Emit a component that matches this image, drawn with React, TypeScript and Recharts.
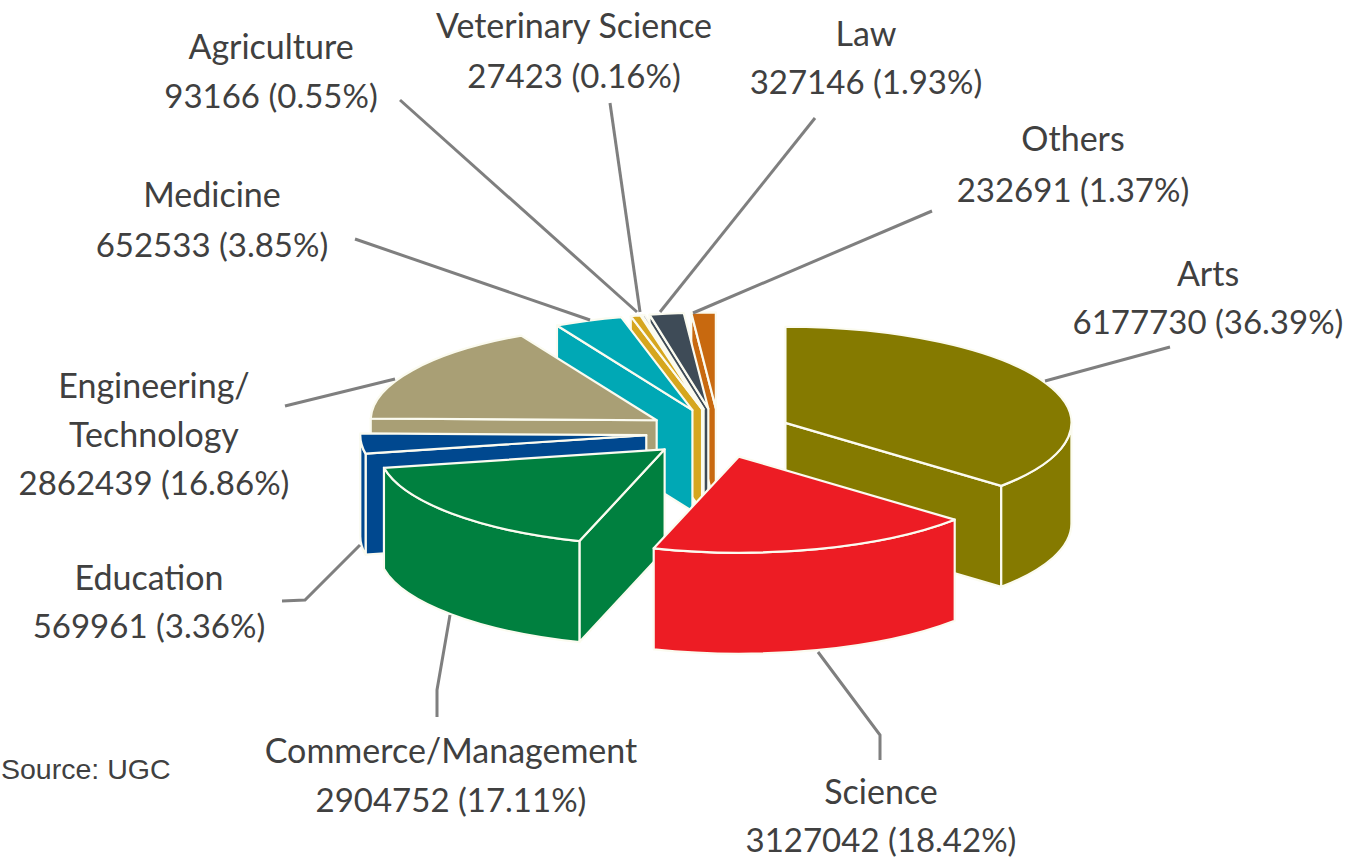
import React from 'react'
import { PieChart, Pie } from 'recharts'

const categories = [
  'Arts',
  'Science',
  'Commerce/Management',
  'Education',
  'Engineering/Technology',
  'Medicine',
  'Agriculture',
  'Veterinary Science',
  'Law',
  'Others',
]
const enrolment = [6177730, 3127042, 2904752, 569961, 2862439, 652533, 93166, 27423, 327146, 232691]
const shares = ['36.39', '18.42', '17.11', '3.36', '16.86', '3.85', '0.55', '0.16', '1.93', '1.37']
const colors = ['#857a00', '#ed1c24', '#00803f', '#00488f', '#a99f75', '#00a8b5', '#d6a61e', '#5d5a86', '#3e4b57', '#c8690f']

const tableData = categories.map((name, i) => ({ name, value: enrolment[i], share: shares[i], fill: colors[i] }))

// back to front, the slices overlap each other
const drawOrder = [9, 8, 7, 6, 5, 4, 3, 2, 0, 1]

const TILT = 0.336
const EXPLODE = 73
const DEPTH = 101
const LABEL_FONT = 'Lato, sans-serif'
const NAME_SIZE = 34
const NUMBER_SIZE = 33
const LINE_COLOR = '#7f7f7f'

const labelLayout = [
  { x: 1208, y: [286, 334], leader: [[1170, 347], [1045, 381]] },
  { x: 881, y: [804, 852], leader: [[880, 760], [880, 735], [818, 652]] },
  { x: 451, y: [763, 812], leader: [[437, 717], [437, 690], [450, 615]] },
  { x: 149, y: [590, 638], leader: [[282, 601], [305, 600], [360, 545]] },
  { x: 154, y: [398, 447, 495], leader: [[285, 406], [395, 379]] },
  { x: 212, y: [207, 257], leader: [[355, 239], [590, 320]] },
  { x: 271, y: [59, 108], leader: [[400, 100], [637, 312]] },
  { x: 574, y: [38, 88], leader: [[610, 103], [640, 312]] },
  { x: 866, y: [46, 94], leader: [[815, 118], [660, 312]] },
  { x: 1073, y: [151, 202], leader: [[932, 211], [693, 313]] },
]

const rad = (a: number) => (a * Math.PI) / 180

function Slice(props: any) {
  const { cx, cy, outerRadius: R, startAngle, endAngle, fill } = props
  const a1 = Math.max(startAngle, endAngle)
  const a2 = Math.min(startAngle, endAngle)
  const mid = rad((a1 + a2) / 2)
  const ax = cx + EXPLODE * Math.cos(mid)
  const ay = cy - EXPLODE * TILT * Math.sin(mid)
  const rim = (a: number) => [ax + R * Math.cos(rad(a)), ay - R * TILT * Math.sin(rad(a))]
  const arc = (to: number[], sweep: number, large = 0) => `A${R} ${R * TILT} 0 ${large} ${sweep} ${to[0]} ${to[1]}`
  const wall = (a: number) => {
    const p = rim(a)
    return `M${ax} ${ay}L${p[0]} ${p[1]}L${p[0]} ${p[1] + DEPTH}L${ax} ${ay + DEPTH}Z`
  }

  const paths: string[] = []
  if (Math.cos(rad(a1)) < -0.001) paths.push(wall(a1))
  if (Math.cos(rad(a2)) > 0.001) paths.push(wall(a2))
  // the outer wall only shows on the front half
  const hi = Math.min(a1, 0)
  const lo = Math.max(a2, -180)
  if (lo < hi) {
    const p = rim(hi)
    const q = rim(lo)
    paths.push(
      `M${p[0]} ${p[1]}${arc(q, 1)}L${q[0]} ${q[1] + DEPTH}${arc([p[0], p[1] + DEPTH], 0)}Z`
    )
  }
  const s = rim(a1)
  const e = rim(a2)
  paths.push(`M${ax} ${ay}L${s[0]} ${s[1]}${arc(e, 1, a1 - a2 > 180 ? 1 : 0)}Z`)

  return (
    <g>
      {paths.map((d, i) => (
        <path key={i} d={d} fill={fill} stroke="#fbfbf0" strokeWidth={2.2} strokeLinejoin="round" />
      ))}
    </g>
  )
}

function SliceLabel(props: any) {
  const { index } = props
  const row = tableData[index]
  const layout = labelLayout[index]
  const nameLines = row.name === 'Engineering/Technology' ? ['Engineering/', 'Technology'] : [row.name]
  const lines = [...nameLines, `${row.value} (${row.share}%)`]
  return (
    <g>
      <polyline
        points={layout.leader.map((p) => p.join(',')).join(' ')}
        fill="none"
        stroke={LINE_COLOR}
        strokeWidth={3}
      />
      {lines.map((line, i) => (
        <text
          key={i}
          x={layout.x}
          y={layout.y[i]}
          textAnchor="middle"
          fontFamily={LABEL_FONT}
          fontSize={i === lines.length - 1 ? NUMBER_SIZE : NAME_SIZE}
          fill="#404040"
        >
          {line}
        </text>
      ))}
    </g>
  )
}

export default function App() {
  return (
    <div style={{ position: 'absolute', left: 0, top: 0, width: 1352, height: 859, background: '#fff' }}>
      <PieChart width={1352} height={859} margin={{ top: 0, right: 0, bottom: 0, left: 0 }}>
        {drawOrder.map((idx) => (
          <Pie
            key={idx}
            data={tableData}
            dataKey="value"
            nameKey="name"
            cx={719}
            cy={433}
            outerRadius={286}
            startAngle={90}
            endAngle={-270}
            isAnimationActive={false}
            shape={(p: any) => (p.name === categories[idx] ? <Slice {...p} /> : <g />)}
          />
        ))}
        <Pie
          data={tableData}
          dataKey="value"
          nameKey="name"
          cx={719}
          cy={433}
          outerRadius={286}
          startAngle={90}
          endAngle={-270}
          isAnimationActive={false}
          shape={() => <g />}
          label={(p: any) => <SliceLabel {...p} />}
          labelLine={false}
        />
        <text x={1} y={779} fontFamily="'Liberation Sans', Arial, sans-serif" fontSize={28.5} fill="#404040">
          Source: UGC
        </text>
      </PieChart>
    </div>
  )
}
